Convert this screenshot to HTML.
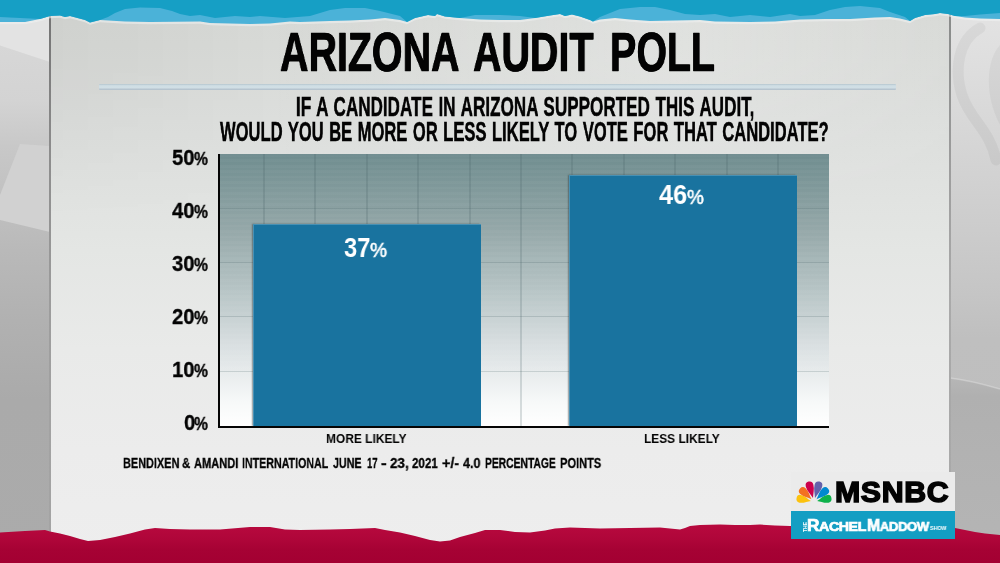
<!DOCTYPE html>
<html>
<head>
<meta charset="utf-8">
<title>Arizona Audit Poll</title>
<style>
html,body{margin:0;padding:0;}
body{width:1000px;height:563px;overflow:hidden;position:relative;background:#c9c9c9;font-family:"Liberation Sans",sans-serif;}
.abs{position:absolute;}
#bgl{left:0;top:0;width:50px;height:563px;}
#bgr{left:950px;top:0;width:50px;height:563px;}
#panel{left:51px;top:0;width:898px;height:563px;background:linear-gradient(180deg,#d6d8d5 0px,#d8dad7 45px,#dcdedc 120px,#dee0de 150px,#e4e6e4 250px,#e9eae9 350px,#ececec 450px,#eeeeee 563px);}
#pglow{left:51px;top:0;width:898px;height:220px;background:linear-gradient(90deg,rgba(0,0,0,.035) 0%,rgba(255,255,255,0) 25%,rgba(255,255,255,.22) 70%,rgba(255,255,255,.05) 100%);-webkit-mask-image:linear-gradient(180deg,#000 0,#000 60px,transparent 100%);mask-image:linear-gradient(180deg,#000 0,#000 60px,transparent 100%);}
#pl{left:48.6px;top:0;width:2.4px;height:563px;background:linear-gradient(180deg,#727272 0px,#787878 40px,#8c8c8c 150px,#9c9c9c 300px,#a2a2a2 420px,#a4a4a4 563px);}
#pr{left:949px;top:0;width:2px;height:563px;background:linear-gradient(180deg,#888a89 0px,#8c8e8d 40px,#9c9c9c 160px,#aaaaaa 300px,#a8a8a8 380px,#aaaaaa 563px);}
#rule{left:99px;top:83.5px;width:797px;height:6px;background:linear-gradient(180deg,#b3c4cd 0%,#cbdae1 22%,#d3e1e7 55%,#c0ced7 80%,#aebdc9 100%);border-radius:1px;}
.t{position:absolute;white-space:nowrap;font-weight:bold;color:#030303;transform-origin:0 0;line-height:1;will-change:transform;}
.r{transform-origin:100% 0;text-align:right;}
.yl{-webkit-text-stroke:0.35px #030303;}
.w{color:#fff;}
.s{top:456.3px;font-size:14.5px;-webkit-text-stroke:0.3px #030303;}
#chart{left:218px;top:154px;width:611px;height:273px;background:linear-gradient(180deg,#6e8b8e 0%,#728f91 2%,#95a8a9 28%,#bac7c8 52%,#d9dfe1 70%,#f7f9f9 91%,#ffffff 100%);overflow:hidden;}
#axisy{left:218px;top:154px;width:2.2px;height:273.7px;background:#050505;}
#axisx{left:218px;top:425.5px;width:611px;height:2.2px;background:#050505;}
.vg{position:absolute;top:0;width:1.5px;height:273px;background:rgba(70,95,100,.20);}
.hg{position:absolute;left:0;width:611px;height:1.2px;background:rgba(70,95,100,.20);}
.bar{position:absolute;background:#19739f;box-shadow:-1.5px 0 1.5px rgba(40,52,58,.6),inset 1px 1px 0 rgba(160,200,220,.35);}
</style>
</head>
<body>
<svg id="bgl" class="abs" width="50" height="563" viewBox="0 0 50 563">
  <defs><linearGradient id="gl" x1="0" y1="0" x2="0" y2="563" gradientUnits="userSpaceOnUse"><stop offset="0" stop-color="#dadada"/><stop offset=".18" stop-color="#d3d3d3"/><stop offset=".26" stop-color="#c8c8c8"/><stop offset=".40" stop-color="#bdbdbd"/><stop offset=".445" stop-color="#b9b9b9"/><stop offset=".57" stop-color="#b1b1b1"/><stop offset=".71" stop-color="#aaaaaa"/><stop offset="1" stop-color="#ababab"/></linearGradient></defs>
  <rect width="50" height="563" fill="url(#gl)"/>
  <polygon points="0,0 50,0 50,62 0,45.5" fill="#e3e3e3"/>
  <polygon points="20,144 50,146 50,232 0,220 0,195" fill="#d1d1d1"/>
</svg>
<svg id="bgr" class="abs" width="50" height="563" viewBox="0 0 50 563">
  <defs><linearGradient id="gr" x1="0" y1="0" x2="0" y2="563" gradientUnits="userSpaceOnUse"><stop offset="0" stop-color="#e4e4e4"/><stop offset=".1" stop-color="#dfdfdf"/><stop offset=".293" stop-color="#d3d3d3"/><stop offset=".524" stop-color="#c5c5c5"/><stop offset=".6" stop-color="#bfbfbf"/><stop offset="1" stop-color="#bdbdbd"/></linearGradient>
  <linearGradient id="gr2" x1="0" y1="378" x2="0" y2="563" gradientUnits="userSpaceOnUse"><stop offset="0" stop-color="#b6b6b6"/><stop offset=".1" stop-color="#b0b0b0"/><stop offset=".4" stop-color="#b2b2b2"/><stop offset="1" stop-color="#b5b5b5"/></linearGradient></defs>
  <rect width="50" height="563" fill="url(#gr)"/>
  <path d="M30,28 C8,40 4,70 12,95 C20,120 40,130 46,160" fill="none" stroke="rgba(0,0,0,.045)" stroke-width="11" stroke-linecap="round"/>
  <path d="M50,45 C36,60 34,95 50,125 Z" fill="rgba(0,0,0,.04)"/>
  <path d="M0,378 C18,380 36,385 50,389 V563 H0 Z" fill="url(#gr2)"/>
  <path d="M0,378 C18,380 36,385 50,389" fill="none" stroke="rgba(255,255,255,.28)" stroke-width="1.6"/>
</svg>
<div id="panel" class="abs"></div>
<div id="pglow" class="abs"></div>
<div id="pl" class="abs"></div>
<div id="pr" class="abs"></div>
<div id="rule" class="abs"></div>

<div id="chart" class="abs">
  <div class="abs" style="left:0;top:0;width:611px;height:273px;background:repeating-linear-gradient(180deg,rgba(255,255,255,.028) 0px,rgba(255,255,255,.028) 2.7px,rgba(255,255,255,0) 2.7px,rgba(255,255,255,0) 5.44px);"></div>
  <div class="vg" style="left:45px"></div><div class="vg" style="left:96px"></div><div class="vg" style="left:148px"></div><div class="vg" style="left:199px"></div><div class="vg" style="left:251px"></div><div class="vg" style="left:302px"></div><div class="vg" style="left:353px"></div><div class="vg" style="left:405px"></div><div class="vg" style="left:456px"></div><div class="vg" style="left:508px"></div><div class="vg" style="left:559px"></div>
  <div class="hg" style="top:54px"></div><div class="hg" style="top:108px"></div><div class="hg" style="top:162px"></div><div class="hg" style="top:217px"></div>
</div>
<div class="bar" style="left:252.5px;top:224px;width:228px;height:202px"></div>
<div class="bar" style="left:568.5px;top:175px;width:228.5px;height:251px"></div>
<div id="axisy" class="abs"></div>
<div id="axisx" class="abs"></div>

<div class="t" id="title" style="left:279.8px;top:24.4px;font-size:56.3px;transform:scaleX(0.700);word-spacing:7.9px;-webkit-text-stroke:0.7px #030303;text-shadow:0.5px 0 0 #030303,-0.5px 0 0 #030303;">ARIZONA AUDIT POLL</div>
<div class="t" id="q1" style="left:295.5px;top:92.6px;font-size:27.8px;transform:scaleX(0.6147);word-spacing:1.46px;-webkit-text-stroke:0.5px #030303;">IF A CANDIDATE IN ARIZONA SUPPORTED THIS AUDIT,</div>
<div class="t" id="q2" style="left:219.7px;top:117.5px;font-size:27.8px;transform:scaleX(0.596);word-spacing:1.5px;-webkit-text-stroke:0.5px #030303;">WOULD YOU BE MORE OR LESS LIKELY TO VOTE FOR THAT CANDIDATE?</div>

<div class="t r yl" id="y50" style="right:805.2px;top:147px;font-size:22px;transform:scaleX(0.915);">50</div><div class="t yl" id="yp50" style="left:194.2px;top:150px;font-size:18px;transform:scaleX(0.870);">%</div>
<div class="t r yl" id="y40" style="right:805.2px;top:200px;font-size:22px;transform:scaleX(0.915);">40</div><div class="t yl" id="yp40" style="left:194.2px;top:203px;font-size:18px;transform:scaleX(0.870);">%</div>
<div class="t r yl" id="y30" style="right:805.2px;top:253px;font-size:22px;transform:scaleX(0.915);">30</div><div class="t yl" id="yp30" style="left:194.2px;top:256px;font-size:18px;transform:scaleX(0.870);">%</div>
<div class="t r yl" id="y20" style="right:805.2px;top:306px;font-size:22px;transform:scaleX(0.915);">20</div><div class="t yl" id="yp20" style="left:194.2px;top:309px;font-size:18px;transform:scaleX(0.870);">%</div>
<div class="t r yl" id="y10" style="right:805.2px;top:359px;font-size:22px;transform:scaleX(0.915);">10</div><div class="t yl" id="yp10" style="left:194.2px;top:362px;font-size:18px;transform:scaleX(0.870);">%</div>
<div class="t r yl" id="y0" style="right:805.2px;top:412px;font-size:22px;transform:scaleX(0.915);">0</div><div class="t yl" id="yp0" style="left:194.2px;top:415px;font-size:18px;transform:scaleX(0.870);">%</div>

<div class="t w" id="n37" style="left:344.0px;top:233.7px;font-size:27.6px;transform:scaleX(0.862);">37</div><div class="t w" id="p37" style="left:370.4px;top:240.2px;font-size:20.2px;font-weight:normal;transform:scaleX(0.95);-webkit-text-stroke:0.55px #fff;">%</div>
<div class="t w" id="n46" style="left:658.8px;top:181.2px;font-size:27.3px;transform:scaleX(0.924);">46</div><div class="t w" id="p46" style="left:686.9px;top:187.2px;font-size:20.2px;font-weight:normal;transform:scaleX(0.94);-webkit-text-stroke:0.55px #fff;">%</div>

<div class="t" id="more" style="left:326.0px;top:431.7px;font-size:13.3px;transform:scaleX(0.899);">MORE LIKELY</div>
<div class="t" id="less" style="left:644.2px;top:431.7px;font-size:13.3px;transform:scaleX(0.897);">LESS LIKELY</div>
<div id="src" class="abs" style="left:0;top:0;"><div class="t s" style="left:122.7px;transform:scaleX(0.753);">BENDIXEN</div><div class="t s" style="left:182.2px;transform:scaleX(0.785);">&amp;</div><div class="t s" style="left:194.1px;transform:scaleX(0.764);">AMANDI</div><div class="t s" style="left:242.2px;transform:scaleX(0.735);">INTERNATIONAL</div><div class="t s" style="left:333.4px;transform:scaleX(0.740);">JUNE</div><div class="t s" style="left:366.6px;transform:scaleX(0.656);">17</div><div class="t s" style="left:380.9px;transform:scaleX(1.186);">-</div><div class="t s" style="left:390.0px;transform:scaleX(0.925);">23,</div><div class="t s" style="left:412.2px;transform:scaleX(0.798);">2021</div><div class="t s" style="left:441.8px;transform:scaleX(0.985);">+/-</div><div class="t s" style="left:462.9px;transform:scaleX(0.871);">4.0</div><div class="t s" style="left:484.9px;transform:scaleX(0.710);">PERCENTAGE</div><div class="t s" style="left:559.5px;transform:scaleX(0.764);">POINTS</div></div>

<!--TOPBAND--><svg class="abs" style="left:0;top:0" width="1000" height="30" viewBox="0 0 1000 30">
  <polygon points="0,0 0,24.2 25,24.2 40,21.2 50,18.2 60,17.7 65,19.2 70,18.2 85,22.2 90,24.7 100,22.2 125,23.7 150,24.2 200,23.7 210,25.2 250,26.2 270,25.7 290,23.7 300,24.2 330,23.2 350,22.7 370,21.7 385,20.2 400,22.2 407,24.2 415,20.2 428,17.2 435,18.2 437,16.2 445,18.7 460,20.2 480,21.7 500,22.2 520,22.2 535,20.2 550,17.7 560,16.2 565,18.2 572,16.7 580,18.7 590,22.2 593,23.7 600,21.7 615,20.2 630,21.7 650,23.2 700,22.2 715,23.7 750,24.2 775,23.7 800,21.7 825,21.2 850,21.2 875,19.7 890,19.2 900,20.7 910,23.2 915,20.2 925,17.2 935,16.2 940,15.2 948,16.2 955,18.2 965,19.7 980,20.7 1000,21.2 1000,0" fill="rgba(240,242,242,.55)"/>
  <polygon points="0,0 0,22 25,22 40,19 50,16 60,15.5 65,17 70,16 85,20 90,22.5 100,20 125,21.5 150,22 200,21.5 210,23 250,24 270,23.5 290,21.5 300,22 330,21 350,20.5 370,19.5 385,18 400,20 407,22 415,18 428,15 435,16 437,14 445,16.5 460,18 480,19.5 500,20 520,20 535,18 550,15.5 560,14 565,16 572,14.5 580,16.5 590,20 593,21.5 600,19.5 615,18 630,19.5 650,21 700,20 715,21.5 750,22 775,21.5 800,19.5 825,19 850,19 875,17.5 890,17 900,18.5 910,21 915,18 925,15 935,14 940,13 948,14 955,16 965,17.5 980,18.5 1000,19 1000,0" fill="#4bb2d8"/>
  <polygon points="0,0 0,17 20,18 40,19 50,16 60,15.5 65,17 70,16 85,20 90,22.5 100,20 108,17 115,13 125,9 140,7.5 160,8 172,11 180,14 190,16 200,15 215,18 235,16 250,17 260,16 285,18 310,16 320,13 330,10 345,8 365,8 380,11 392,14 400,16 407,22 415,18 428,15 435,16 437,14 445,16.5 460,18 475,15 500,15 520,16 535,18 550,15.5 560,14 565,16 572,14.5 580,16.5 590,20 593,21.5 600,17 610,13 620,9 640,7 655,7 670,10 685,14 700,15 715,14 730,17 750,15 770,17 790,14 800,16 815,15 830,10 845,7 860,6 880,8 890,12 905,17 910,21 915,18 925,15 935,14 940,13 948,14 955,16 965,16 980,14.5 1000,13 1000,0" fill="#169fc5"/>
</svg><!--/TOPBAND-->
<!--BOTTOMBAND--><svg class="abs" style="left:0;top:520px" width="1000" height="43" viewBox="0 0 1000 43">
  <defs><linearGradient id="rg" x1="0" y1="0" x2="0" y2="1"><stop offset="0" stop-color="#b8093e"/><stop offset=".35" stop-color="#b0063a"/><stop offset=".65" stop-color="#a60234"/><stop offset="1" stop-color="#a30032"/></linearGradient></defs>
  <polygon points="0,43 0,12.5 25,11 45,10 50,11.5 60,13.5 70,16 80,19 88,21 100,20 115,17 130,13.5 145,9.5 155,8 170,9 190,9.5 220,9.5 250,7 270,7 285,9.5 300,10 330,9.5 350,9 375,8 385,10 400,12.5 415,16 430,20 440,21.5 450,20.5 460,17 475,13 485,10 500,10 515,12 530,12.5 545,10.5 555,8.5 570,7.5 600,8.5 630,8 660,7.5 670,8.5 680,9.5 685,8 690,6 700,5 720,4.5 735,5 750,5 760,4.5 775,5.5 790,6 820,7 870,6 920,7 955,8 965,10 975,12 985,13.5 1000,15 1000,43" fill="url(#rg)"/>
</svg><!--/BOTTOMBAND-->
<!--LOGO--><div class="abs" id="lgw" style="left:791px;top:472px;width:164px;height:39px;background:#ebebeb;"></div>
<div class="abs" id="lgb" style="left:791px;top:511px;width:164px;height:27.5px;background:#139ec3;"></div>
<svg class="abs" style="left:792.8px;top:478.9px" width="42" height="27" viewBox="-21 -22.5 42 27"><g><path d="M0,-3.4 C-1.1,-7 -3.9,-10.8 -3.9,-15.2 A3.9,3.9 0 0 1 3.9,-15.2 C3.9,-10.8 1.1,-7 0,-3.4 Z" fill="#fcc20e" transform="rotate(-79) scale(1,0.93)"/><path d="M0,-3.4 C-1.1,-7 -3.9,-10.8 -3.9,-15.2 A3.9,3.9 0 0 1 3.9,-15.2 C3.9,-10.8 1.1,-7 0,-3.4 Z" fill="#f37021" transform="rotate(-47) scale(1,1.0)"/><path d="M0,-3.4 C-1.1,-7 -3.9,-10.8 -3.9,-15.2 A3.9,3.9 0 0 1 3.9,-15.2 C3.9,-10.8 1.1,-7 0,-3.4 Z" fill="#cc004c" transform="rotate(-15.5) scale(1,1.08)"/><path d="M0,-3.4 C-1.1,-7 -3.9,-10.8 -3.9,-15.2 A3.9,3.9 0 0 1 3.9,-15.2 C3.9,-10.8 1.1,-7 0,-3.4 Z" fill="#6460aa" transform="rotate(15.5) scale(1,1.08)"/><path d="M0,-3.4 C-1.1,-7 -3.9,-10.8 -3.9,-15.2 A3.9,3.9 0 0 1 3.9,-15.2 C3.9,-10.8 1.1,-7 0,-3.4 Z" fill="#0089d0" transform="rotate(47) scale(1,1.0)"/><path d="M0,-3.4 C-1.1,-7 -3.9,-10.8 -3.9,-15.2 A3.9,3.9 0 0 1 3.9,-15.2 C3.9,-10.8 1.1,-7 0,-3.4 Z" fill="#0db14b" transform="rotate(79) scale(1,0.93)"/></g></svg>
<div class="t" id="msnbc" style="left:834.7px;top:477.8px;font-size:29px;transform:scaleX(1.045);-webkit-text-stroke:1.5px #030303;letter-spacing:0.6px;">MSNBC</div>
<div class="t w" id="the" style="left:803.4px;top:531.5px;font-size:5px;transform:rotate(-90deg);letter-spacing:0;">THE</div>
<div class="t w" id="rm1" style="left:807.3px;top:517px;font-size:16.5px;transform:scaleX(1.046);-webkit-text-stroke:0.7px #fff;letter-spacing:-0.4px;">R<span style="font-size:13.6px">ACHEL</span></div>
<div class="t w" id="rm2" style="left:866.8px;top:517px;font-size:16.5px;transform:scaleX(0.963);-webkit-text-stroke:0.7px #fff;letter-spacing:-0.4px;">M<span style="font-size:13.6px">ADDOW</span></div>
<div class="t w" id="show" style="left:930.2px;top:526.4px;font-size:5.6px;transform:scaleX(0.95);">SHOW</div><!--/LOGO-->
</body>
</html>
